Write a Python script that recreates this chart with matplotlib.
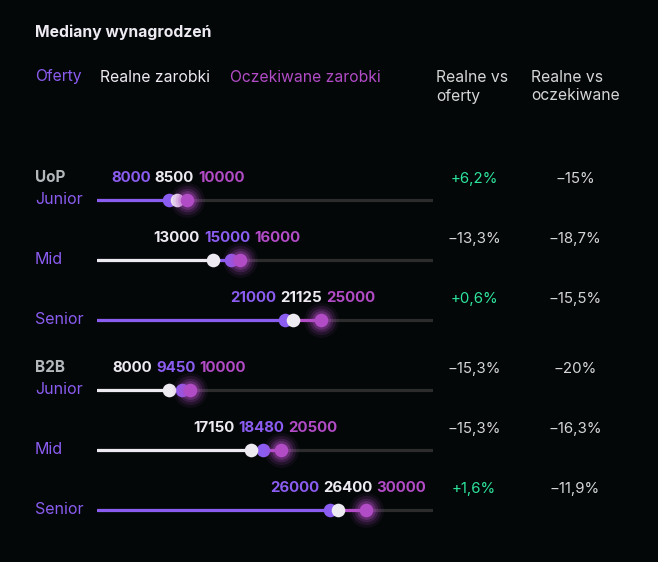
# mediany wynagrodzen - dot/track chart

import matplotlib
matplotlib.use('Agg')
import matplotlib.pyplot as plt

# data
groups = ['UoP', 'UoP', 'UoP', 'B2B', 'B2B', 'B2B']
levels = ['Junior', 'Mid', 'Senior', 'Junior', 'Mid', 'Senior']
oferty = [8000, 15000, 21000, 9450, 18480, 26000]
realne = [8500, 13000, 21125, 8000, 17150, 26400]
oczekiwane = [10000, 16000, 25000, 10000, 20500, 30000]
realne_vs_oferty = ['+6,2%', '-13,3%', '+0,6%', '-15,3%', '-15,3%', '+1,6%']
realne_vs_oczekiwane = ['-15%', '-18,7%', '-15,5%', '-20%', '-16,3%', '-11,9%']
x_max = 37500

# styles
BG = '#030708'
PURPLE = '#8b5cf0'
MAGENTA = '#b24bc6'
WHITE = '#eeeaf2'
GREEN = '#2ee59d'
GREY_TXT = '#d6d6d6'
TRACK = '#2c2c2c'
FONT = 'Inter'

plt.rcParams['font.family'] = [FONT, 'DejaVu Sans']

W, H = 658, 562
fig = plt.figure(figsize=(W / 100, H / 100), dpi=100, facecolor=BG)

# pixel canvas for text
ax = fig.add_axes([0, 0, 1, 1])
ax.set_xlim(0, W)
ax.set_ylim(H, 0)
ax.axis('off')
ax.set_facecolor(BG)

# data axes for the tracks
track_left, track_right = 97, 433
dax = fig.add_axes([track_left / W, 0, (track_right - track_left) / W, 1])
dax.set_xlim(0, x_max)
dax.set_ylim(H, 0)
dax.axis('off')
dax.patch.set_alpha(0)

# header
ax.text(35, 32, 'Mediany wynagrodzeń', color=WHITE, fontsize=11.3, fontweight='bold', va='center')
ax.text(35, 77, 'Oferty', color=PURPLE, fontsize=11.3, va='center')
ax.text(100, 77, 'Realne zarobki', color=WHITE, fontsize=11.3, va='center')
ax.text(230, 77, 'Oczekiwane zarobki', color=MAGENTA, fontsize=11.3, va='center')
ax.text(436, 87, 'Realne vs\noferty', color=GREY_TXT, fontsize=11.3, va='center', linespacing=1.25)
ax.text(531, 87, 'Realne vs\noczekiwane', color=GREY_TXT, fontsize=11.3, va='center', linespacing=1.25)

renderer = fig.canvas.get_renderer()
min_gap = 880  # so the dots don't sit on top of each other


def to_px(v, y):
    disp = dax.transData.transform((v, y))
    return ax.transData.inverted().transform(disp)[0]


prev_group = None
gi = -1
for i in range(len(levels)):
    if groups[i] != prev_group:
        gi += 1
        prev_group = groups[i]
        show_group = True
    else:
        show_group = False
    y = 200 + 60 * i + 10 * gi

    if show_group:
        ax.text(35, y - 22, groups[i], color='#b5b8bb', fontsize=11, fontweight='bold', va='center')
    ax.text(35, y, levels[i], color=PURPLE, fontsize=11.5, va='center')

    # track
    dax.plot([0, x_max], [y, y], color=TRACK, lw=2.3, solid_capstyle='round', zorder=1)

    pts = sorted([(oferty[i], PURPLE, 3), (realne[i], WHITE, 4), (oczekiwane[i], MAGENTA, 5)],
                 key=lambda p: p[0])
    pos = []
    for v, c, z in pts:
        p = v if not pos else max(v, pos[-1] + min_gap)
        pos.append(p)

    start = 0
    for p, (v, c, z) in zip(pos, pts):
        dax.plot([start, p], [y, y], color=c, lw=2.3, solid_capstyle='round', zorder=2)
        start = p

    for p, (v, c, z) in zip(pos, pts):
        if c == MAGENTA:
            for ms, a in [(25, 0.08), (21, 0.12), (17, 0.2), (13.5, 0.3)]:
                dax.plot(p, y, 'o', ms=ms, color=c, alpha=a, mec='none', zorder=z)
        dax.plot(p, y, 'o', ms=9.8, color=c, mec='none', zorder=z)

    # value labels centred over the dots
    texts = []
    for v, c, z in pts:
        t = ax.text(0, y - 22, str(v), color=c, fontsize=10.8, fontweight='bold', va='center')
        texts.append(t)
    widths = [t.get_window_extent(renderer).width for t in texts]
    space = 4
    total = sum(widths) + space * (len(widths) - 1)
    cx = (to_px(pos[0], y) + to_px(pos[-1], y)) / 2
    x = cx - total / 2
    for t, w in zip(texts, widths):
        t.set_x(x)
        x += w + space

    # percentages
    c1 = GREEN if realne_vs_oferty[i].startswith('+') else GREY_TXT
    c2 = GREEN if realne_vs_oczekiwane[i].startswith('+') else GREY_TXT
    ax.text(474, y - 21, realne_vs_oferty[i].replace('-', '\u2212'), color=c1, fontsize=10.8,
            ha='center', va='center')
    ax.text(575, y - 21, realne_vs_oczekiwane[i].replace('-', '\u2212'), color=c2, fontsize=10.8,
            ha='center', va='center')

fig.savefig('out.png', dpi=100, facecolor=BG)
